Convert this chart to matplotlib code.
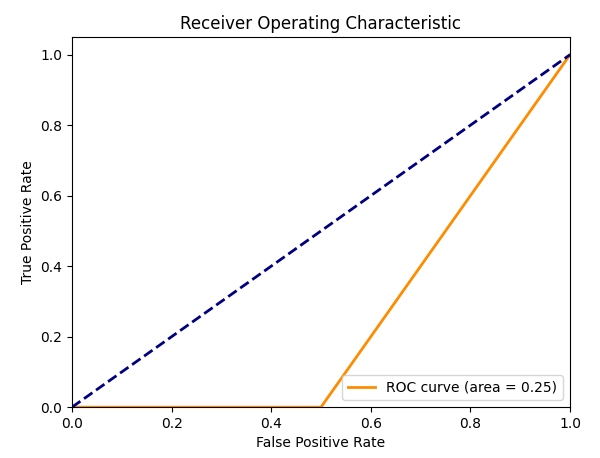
import matplotlib
matplotlib.use("Agg")
import matplotlib.pyplot as plt

fpr = [0.0, 0.5, 1.0]
tpr = [0.0, 0.0, 1.0]
roc_auc = 0.25
diag = [0.0, 1.0]

fig = plt.figure(figsize=(6.0, 4.58), dpi=100)
ax = fig.add_axes([0.12, 0.111, 0.83, 0.808])
ax.plot(fpr, tpr, color='darkorange', lw=2, label='ROC curve (area = %0.2f)' % roc_auc)
ax.plot(diag, diag, color='navy', lw=2, linestyle='--')
ax.set_xlim([0.0, 1.0])
ax.set_ylim([0.0, 1.05])
ax.set_xlabel('False Positive Rate')
ax.set_ylabel('True Positive Rate')
ax.set_title('Receiver Operating Characteristic')
ax.legend(loc='lower right')
fig.savefig('out.png', dpi=100)
